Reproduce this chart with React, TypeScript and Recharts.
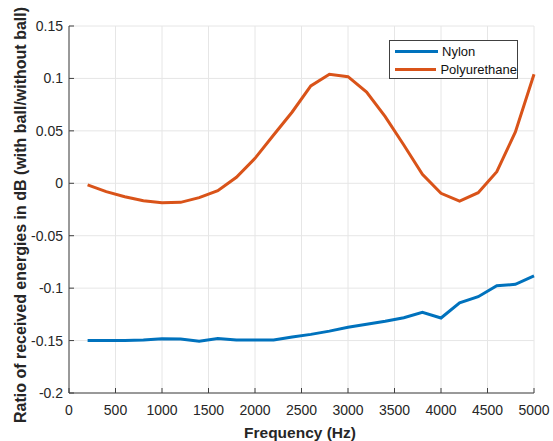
import React from "react";
import {
  LineChart,
  Line,
  XAxis,
  YAxis,
  CartesianGrid,
  Legend,
} from "recharts";

const FREQS = [
  200, 400, 600, 800, 1000, 1200, 1400, 1600, 1800, 2000, 2200, 2400, 2600,
  2800, 3000, 3200, 3400, 3600, 3800, 4000, 4200, 4400, 4600, 4800, 5000,
];
const NYLON = [
  -0.15, -0.15, -0.15, -0.1495, -0.1482, -0.1486, -0.1507, -0.148, -0.1495,
  -0.1495, -0.1495, -0.1466, -0.1441, -0.141, -0.1373, -0.1345, -0.1316,
  -0.1282, -0.1231, -0.1285, -0.1139, -0.1082, -0.0977, -0.0964, -0.0882,
];
const POLYURETHANE = [
  -0.0016, -0.008, -0.0128, -0.0166, -0.0185, -0.0182, -0.0137, -0.007,
  0.0057, 0.0238, 0.046, 0.068, 0.0928, 0.104, 0.1017, 0.087, 0.0635, 0.0365,
  0.0085, -0.0096, -0.017, -0.009, 0.011, 0.049, 0.104,
];
const X_TICKS = [0, 500, 1000, 1500, 2000, 2500, 3000, 3500, 4000, 4500, 5000];
const Y_TICKS = [-0.2, -0.15, -0.1, -0.05, 0, 0.05, 0.1, 0.15];

const SERIES = [
  { key: "nylon", name: "Nylon", color: "#0072BD" },
  { key: "poly", name: "Polyurethane", color: "#D95319" },
];

const data = FREQS.map((f, i) => ({
  f,
  nylon: NYLON[i],
  poly: POLYURETHANE[i],
}));

const FONT = "'Liberation Sans', Arial, Helvetica, sans-serif";
const AXIS = "#404040";
const tickStyle = { fontSize: 14, fill: "#262626", fontFamily: FONT };

function LegendBox() {
  return (
    <div
      style={{
        border: `1px solid ${AXIS}`,
        background: "#fff",
        width: 127,
        height: 37,
        boxSizing: "content-box",
        fontFamily: FONT,
        fontSize: 13,
        color: "#111",
        padding: 0,
      }}
    >
      {SERIES.map((s, i) => (
        <div
          key={s.key}
          style={{
            display: "flex",
            alignItems: "center",
            height: 18.5,
            marginTop: i === 0 ? 1 : 0,
          }}
        >
          <span
            style={{
              display: "inline-block",
              width: 43,
              height: 3,
              background: s.color,
              marginLeft: 5,
              marginRight: 4,
            }}
          />
          <span>{s.name}</span>
        </div>
      ))}
    </div>
  );
}

export default function App() {
  return (
    <div
      style={{
        position: "absolute",
        left: 0,
        top: 0,
        width: 553,
        height: 441,
        background: "#fff",
      }}
    >
      <LineChart
        width={553}
        height={441}
        data={data}
        margin={{ top: 26, right: 19, bottom: 0, left: 0 }}
      >
        <CartesianGrid stroke="#e6e6e6" strokeWidth={1} />
        <XAxis
          dataKey="f"
          type="number"
          domain={[0, 5000]}
          ticks={X_TICKS}
          interval={0}
          height={48}
          stroke={AXIS}
          tickSize={-5}
          tickMargin={17}
          tick={tickStyle}
          label={{
            content: () => (
              <text
                x={300}
                y={432}
                textAnchor="middle"
                dominantBaseline="central"
                style={{ fontFamily: FONT, fontSize: 15.5, fontWeight: 700, fill: "#262626" }}
              >
                Frequency (Hz)
              </text>
            ),
          }}
        />
        <XAxis
          xAxisId="top"
          dataKey="f"
          type="number"
          orientation="top"
          domain={[0, 5000]}
          ticks={X_TICKS}
          interval={0}
          height={0}
          stroke={AXIS}
          tickSize={-5}
          tick={false}
        />
        <YAxis
          type="number"
          domain={[-0.2, 0.15]}
          ticks={Y_TICKS}
          interval={0}
          width={69}
          stroke={AXIS}
          tickSize={-5}
          tickMargin={11}
          tick={tickStyle}
          label={{
            content: () => (
              <text
                x={20}
                y={215}
                transform="rotate(-90 20 215)"
                textAnchor="middle"
                dominantBaseline="central"
                style={{ fontFamily: FONT, fontSize: 16, fontWeight: 700, fill: "#262626" }}
              >
                Ratio of received energies in dB (with ball/without ball)
              </text>
            ),
          }}
        />
        <YAxis
          yAxisId="right"
          type="number"
          orientation="right"
          domain={[-0.2, 0.15]}
          ticks={Y_TICKS}
          interval={0}
          width={0}
          stroke={AXIS}
          tickSize={-5}
          tick={false}
        />
        <Legend
          layout="horizontal"
          verticalAlign="middle"
          align="center"
          wrapperStyle={{ left: 389, top: 40, width: 129 }}
          content={() => <LegendBox />}
        />
        {SERIES.map((s) => (
          <Line
            key={s.key}
            dataKey={s.key}
            name={s.name}
            stroke={s.color}
            strokeWidth={3}
            dot={false}
            type="linear"
            isAnimationActive={false}
          />
        ))}
      </LineChart>
    </div>
  );
}
